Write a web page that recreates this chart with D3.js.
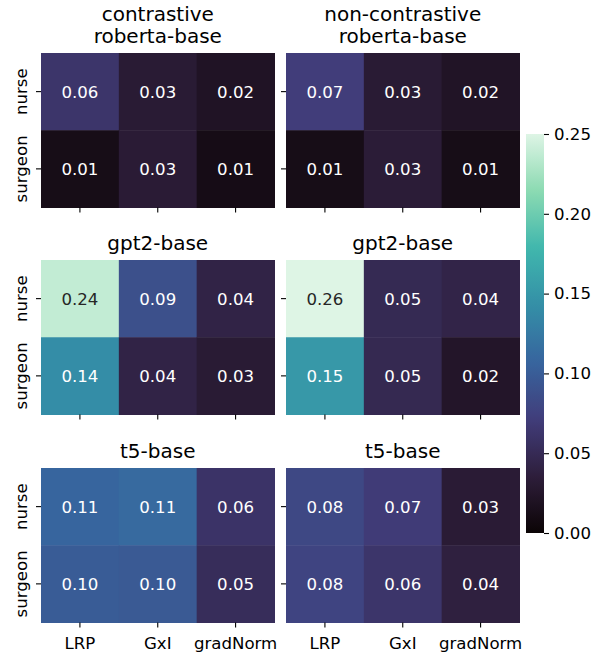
<!DOCTYPE html>
<html>
<head>
<meta charset="utf-8">
<script src="https://cdn.jsdelivr.net/npm/d3@7"></script>
<style>
  body { margin: 0; background: #fff; }
  text { font-family: "DejaVu Sans", sans-serif; }
</style>
</head>
<body>
<div id="chart"></div>
<script>
// data
var methods = ["LRP", "GxI", "gradNorm"];
var professions = ["nurse", "surgeon"];
var panelTitles = [
  ["contrastive", "roberta-base"], ["non-contrastive", "roberta-base"],
  ["gpt2-base"], ["gpt2-base"],
  ["t5-base"], ["t5-base"]
];
// rows: nurse, surgeon ; cols: LRP, GxI, gradNorm
var robertaContrastive = [[0.062, 0.031, 0.021], [0.012, 0.032, 0.011]];
var robertaNonContrastive = [[0.071, 0.031, 0.022], [0.012, 0.033, 0.012]];
var gpt2Contrastive = [[0.238, 0.088, 0.042], [0.141, 0.042, 0.031]];
var gpt2NonContrastive = [[0.262, 0.049, 0.043], [0.151, 0.048, 0.024]];
var t5Contrastive = [[0.107, 0.111, 0.060], [0.099, 0.097, 0.053]];
var t5NonContrastive = [[0.081, 0.069, 0.032], [0.078, 0.062, 0.038]];
var panelValues = [robertaContrastive, robertaNonContrastive, gpt2Contrastive,
  gpt2NonContrastive, t5Contrastive, t5NonContrastive];
var cbarTicks = [0, 0.05, 0.10, 0.15, 0.20, 0.25];

// seaborn "mako" approximated by stops
var makoStops = ["#0b0405", "#2e1e3b", "#413d7b", "#37659e", "#348fa7", "#40b7ad", "#8bdab2", "#def5e5"];
var mako = d3.scaleLinear()
  .domain(makoStops.map(function (c, i) { return i / 7; }))
  .range(makoStops)
  .clamp(true);
var vmin = 0, vmax = 0.25;
var norm = d3.scaleLinear().domain([vmin, vmax]).range([0, 1]).clamp(true);
function color(v) { return mako(norm(v)); }

var W = 607, H = 654;
var svg = d3.select("#chart").append("svg")
  .attr("width", W).attr("height", H);

var colX = [41, 286];
var rowY = [53, 260, 468];
var pw = 233.5, ph = 154.5;
var fs = 16.6;

panelValues.forEach(function (vals, p) {
  var r = Math.floor(p / 2), c = p % 2;
  var g = svg.append("g").attr("transform", "translate(" + colX[c] + "," + rowY[r] + ")");
  var x = d3.scaleBand().domain(methods).range([0, pw]);
  var y = d3.scaleBand().domain(professions).range([0, ph]);

  var cells = [];
  professions.forEach(function (prof, i) {
    methods.forEach(function (m, j) {
      cells.push({ prof: prof, method: m, value: vals[i][j] });
    });
  });

  g.selectAll("rect").data(cells).enter().append("rect")
    .attr("x", function (d) { return x(d.method); })
    .attr("y", function (d) { return y(d.prof); })
    .attr("width", x.bandwidth() + 0.5)
    .attr("height", y.bandwidth() + 0.5)
    .attr("fill", function (d) { return color(d.value); });

  g.selectAll("text.annot").data(cells).enter().append("text")
    .attr("class", "annot")
    .attr("x", function (d) { return x(d.method) + x.bandwidth() / 2; })
    .attr("y", function (d) { return y(d.prof) + y.bandwidth() / 2; })
    .attr("dy", "0.36em")
    .attr("text-anchor", "middle")
    .style("font-size", fs + "px")
    .attr("fill", function (d) {
      var rgb = d3.rgb(color(d.value));
      var lin = [rgb.r, rgb.g, rgb.b].map(function (v) {
        v /= 255; return v <= 0.03928 ? v / 12.92 : Math.pow((v + 0.055) / 1.055, 2.4);
      });
      var lum = 0.2126 * lin[0] + 0.7152 * lin[1] + 0.0722 * lin[2];
      return lum > 0.408 ? "#262626" : "#ffffff";
    })
    .text(function (d) { return d3.format(".2f")(d.value); });

  // y ticks
  g.selectAll("line.yt").data(professions).enter().append("line")
    .attr("x1", -5).attr("x2", 0)
    .attr("y1", function (d) { return y(d) + y.bandwidth() / 2; })
    .attr("y2", function (d) { return y(d) + y.bandwidth() / 2; })
    .attr("stroke", "#000").attr("stroke-width", 1.1);
  if (c === 0) {
    g.selectAll("text.yl").data(professions).enter().append("text")
      .attr("transform", function (d) { return "translate(-14," + (y(d) + y.bandwidth() / 2) + ") rotate(-90)"; })
      .attr("text-anchor", "middle")
      .style("font-size", fs + "px")
      .attr("fill", "#000")
      .text(function (d) { return d; });
  }

  // x ticks
  g.selectAll("line.xt").data(methods).enter().append("line")
    .attr("x1", function (d) { return x(d) + x.bandwidth() / 2; })
    .attr("x2", function (d) { return x(d) + x.bandwidth() / 2; })
    .attr("y1", ph).attr("y2", ph + 5)
    .attr("stroke", "#000").attr("stroke-width", 1.1);
  if (r === 2) {
    g.selectAll("text.xl").data(methods).enter().append("text")
      .attr("x", function (d) { return x(d) + x.bandwidth() / 2; })
      .attr("y", ph + 26)
      .attr("text-anchor", "middle")
      .style("font-size", fs + "px")
      .attr("fill", "#000")
      .text(function (d) { return d; });
  }

  // title
  var lines = panelTitles[p];
  g.selectAll("text.title").data(lines).enter().append("text")
    .attr("x", pw / 2)
    .attr("y", function (d, i) { return -10 - (lines.length - 1 - i) * 22.5; })
    .attr("text-anchor", "middle")
    .style("font-size", "20px")
    .attr("fill", "#000")
    .text(function (d) { return d; });
});

// colorbar
var cbX = 526, cbW = 18, cbTop = 134, cbBot = 533;
var cy = d3.scaleLinear().domain([vmin, vmax]).range([cbBot, cbTop]);
var defs = svg.append("defs");
var grad = defs.append("linearGradient").attr("id", "cbgrad")
  .attr("x1", "0").attr("y1", "1").attr("x2", "0").attr("y2", "0");
d3.range(0, 1.0001, 0.02).forEach(function (t) {
  grad.append("stop").attr("offset", t).attr("stop-color", mako(t));
});
svg.append("rect")
  .attr("x", cbX).attr("y", cbTop)
  .attr("width", cbW).attr("height", cbBot - cbTop)
  .attr("fill", "url(#cbgrad)");

var cbAxis = d3.axisRight(cy).tickValues(cbarTicks).tickFormat(d3.format(".2f")).tickSize(5).tickPadding(5);
var ga = svg.append("g").attr("transform", "translate(" + (cbX + cbW) + ",0)").call(cbAxis);
ga.select(".domain").remove();
ga.selectAll("line").attr("stroke", "#000").attr("stroke-width", 1.1);
ga.selectAll("text").style("font-size", fs + "px").style("font-family", "DejaVu Sans").attr("fill", "#000");
</script>
</body>
</html>
